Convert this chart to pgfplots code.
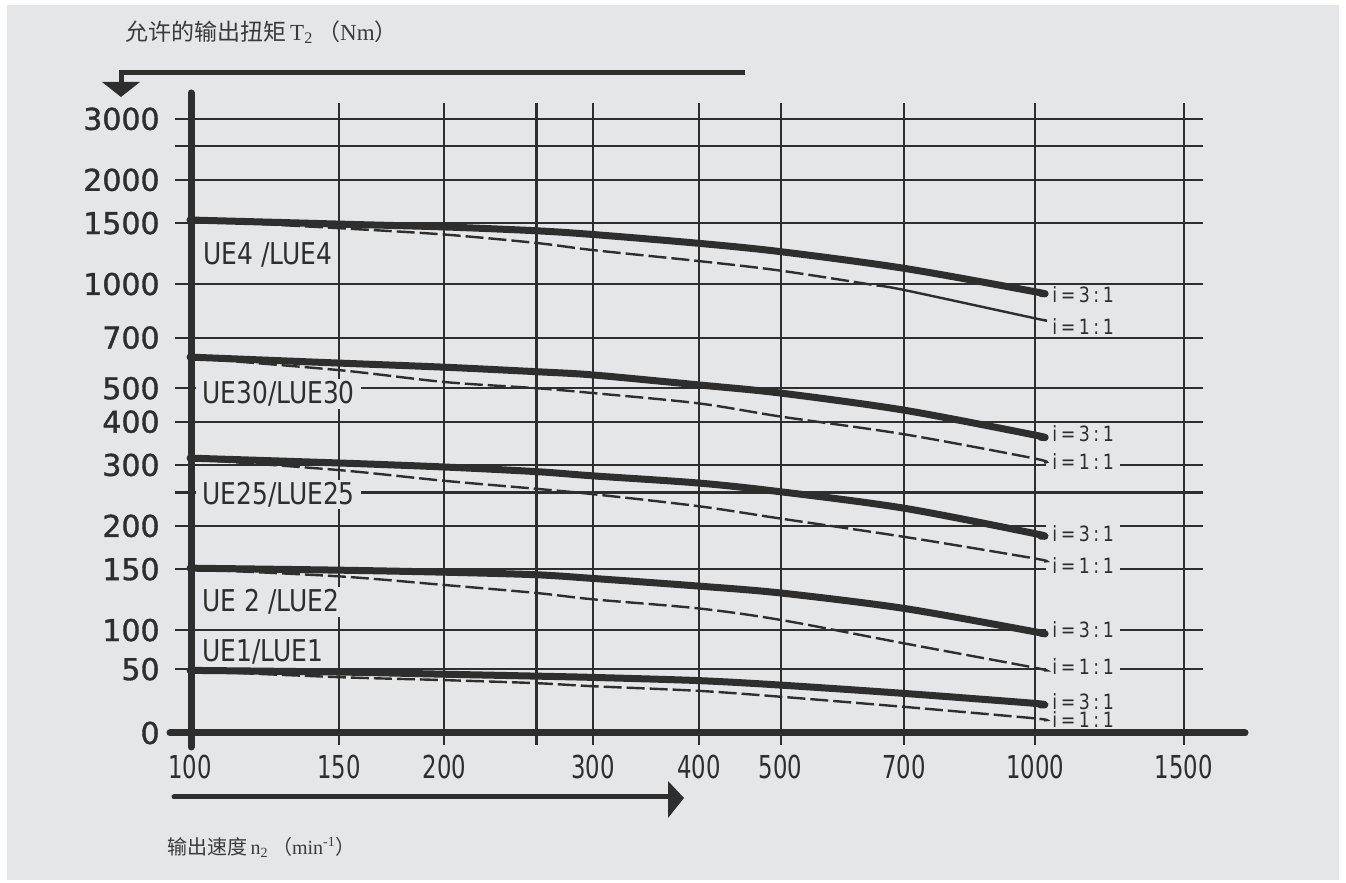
\documentclass[border=0pt]{standalone}
\usepackage{pgfplots}
\pgfplotsset{compat=1.18}
\usepackage{fontspec}
\setmainfont{DejaVu Sans}
\newfontfamily\ynumfont[FakeBold=1.2]{DejaVu Sans}
\newfontfamily\xnumfont[FakeStretch=0.72]{DejaVu Sans}
\newfontfamily\labfont[FakeStretch=0.83]{DejaVu Sans}
\newfontfamily\cjk{Noto Sans CJK SC}
\newfontfamily\tnr{Liberation Serif}
\definecolor{ink}{HTML}{2E2E2E}
\definecolor{bg}{HTML}{E5E6E8}
\definecolor{txt}{HTML}{3A3A3A}

\begin{document}
\begin{tikzpicture}[
  lab/.style={font=\labfont\fontsize{15}{16}\selectfont, text=ink, fill=bg, inner xsep=3pt, inner ysep=1pt, anchor=west},
  ilab/.style={font=\labfont\fontsize{10.5}{11}\selectfont, text=ink, fill=bg, inner xsep=3pt, inner ysep=0.5pt, anchor=west},
  thickc/.style={ink, line width=3.5pt, line cap=round, line join=round, smooth, tension=0.5, mark=none},
  thinc/.style={ink, line width=1.2pt, dash pattern=on 9pt off 2.5pt, smooth, tension=0.5, mark=none},
  thins/.style={ink, line width=1.2pt, smooth, tension=0.5, mark=none},
]
\begin{scope}[x=0.5pt,y=-0.5pt,shift={(0pt,441.5pt)}]
  \fill[white] (0,0) rectangle (1346,883);
  \fill[bg] (7,5) rectangle (1339,880);
\end{scope}
\begin{axis}[
  at={(87.5pt,75pt)}, anchor=south west,
  scale only axis, width=514pt, height=315pt,
  xmode=log, xmin=95.996, xmax=1580.5,
  ymin=0, ymax=3335,
  y coord trafo/.code={\pgfmathparse{(#1>=100) ? (ln(max(#1,1))*0.4342945) : ((#1>=50) ? (2-(100-#1)*0.002254) : (1.8873-(50-#1)*0.0036994))}},
  clip=false,
  axis line style={draw=none},
  major tick length=0pt,
  tick style={draw=none},
  xtick={100,150,200,257,300,400,500,700,1000,1500},
  xticklabels={100,150,200,,300,400,500,700,1000,1500},
  ytick={0,50,100,150,200,250,300,400,500,700,1000,1500,2000,2500,3000},
  yticklabels={0,50,100,150,200,,300,400,500,700,1000,1500,2000,,3000},
  xticklabel style={font=\xnumfont\fontsize{15.8}{16}\selectfont, inner sep=0pt, anchor=north, yshift=-11pt, text=ink},
  yticklabel style={font=\ynumfont\fontsize{15}{16}\selectfont, inner sep=0pt, anchor=east, xshift=-7.5pt, text=ink},
  grid=major,
  grid style={line width=1.1pt, ink},
]
% series labels
\node[lab] at (rel axis cs:0.0214,0.7587) {UE4 /LUE4};
\node[lab] at (rel axis cs:0.0204,0.5381) {UE30/LUE30};
\node[lab] at (rel axis cs:0.0204,0.3778) {UE25/LUE25};
\node[lab] at (rel axis cs:0.0204,0.2079) {UE 2 /LUE2};
\node[lab] at (rel axis cs:0.0204,0.1286) {UE1/LUE1};
% ratio labels
\node[ilab] at (rel axis cs:0.8473,0.6952) {i\,=\,3\,:\,1};
\node[ilab] at (rel axis cs:0.8473,0.6444) {i\,=\,1\,:\,1};
\node[ilab] at (rel axis cs:0.8473,0.4746) {i\,=\,3\,:\,1};
\node[ilab] at (rel axis cs:0.8473,0.4302) {i\,=\,1\,:\,1};
\node[ilab] at (rel axis cs:0.8473,0.3159) {i\,=\,3\,:\,1};
\node[ilab] at (rel axis cs:0.8473,0.2651) {i\,=\,1\,:\,1};
\node[ilab] at (rel axis cs:0.8473,0.1635) {i\,=\,3\,:\,1};
\node[ilab] at (rel axis cs:0.8473,0.1048) {i\,=\,1\,:\,1};
\node[ilab] at (rel axis cs:0.8473,0.0492) {i\,=\,3\,:\,1};
\node[ilab] at (rel axis cs:0.8473,0.0206) {i\,=\,1\,:\,1};
% tick extensions below the x axis
\pgfplotsinvokeforeach{150,200,257,300,400,500,700,1000,1500}{
  \draw[line width=1.1pt, ink] (axis cs:#1,0) -- ++(0pt,-6pt);
}
% heavy axis lines
\draw[line width=3.5pt, ink, line cap=round] (rel axis cs:0.01556,1.0159) -- (rel axis cs:0.01556,-0.0222);
\draw[line width=3.5pt, ink, line cap=round] (rel axis cs:-0.00486,0) -- (rel axis cs:1.0409,0);

% UE4 / LUE4
\addplot[thinc] coordinates {(100,1528) (150,1450) (200,1390) (257,1314) (300,1253) (400,1165) (500,1093) (650,990)};
\addplot[thins] coordinates {(650,990) (700,961) (1000,796) (1025,787)};
\addplot[thickc] coordinates {(100,1531) (150,1490) (200,1462) (257,1425) (300,1390) (400,1311) (500,1240) (700,1110) (1000,950) (1015,940)};
% UE30 / LUE30
\addplot[thinc] coordinates {(100,612) (150,564) (200,521) (257,500) (300,484) (400,452) (500,414) (700,368) (1000,313) (1025,305)};
\addplot[thickc] coordinates {(100,615) (150,591) (200,575) (257,558) (300,546) (400,511) (500,484) (700,432) (1000,366) (1015,361)};
% UE25 / LUE25
\addplot[thinc] coordinates {(100,312) (150,290) (200,270) (257,256) (300,247) (400,228) (500,210) (700,186) (1000,161) (1025,158)};
\addplot[thickc] coordinates {(100,314) (150,304) (200,296) (257,287) (300,279) (400,266) (500,251) (700,225) (1000,190) (1015,187)};
% UE2 / LUE2
\addplot[thinc] coordinates {(100,150) (150,143) (200,135) (257,128) (300,122.7) (400,115.5) (500,107) (700,83) (1000,51.7) (1025,49)};
\addplot[thickc] coordinates {(100,151) (150,149) (200,147) (257,144.5) (300,141) (400,134) (500,128) (700,115.5) (1000,97.8) (1015,96)};
% UE1 / LUE1
\addplot[thinc] coordinates {(100,48.5) (150,43.7) (200,41.4) (257,39) (300,36.6) (400,33) (500,28.4) (700,20.5) (1000,11.5) (1025,10)};
\addplot[thickc] coordinates {(100,49) (150,47.7) (200,46) (257,44.5) (300,43.5) (400,41) (500,37.5) (700,31) (1000,23.2) (1015,22)};
\end{axis}
\begin{scope}[x=0.5pt,y=-0.5pt,shift={(0pt,441.5pt)}]
  \draw[ink, line width=2.5pt] (745,73) -- (121,73) -- (121,85);
  \fill[ink] (102,82) -- (140,82) -- (121,97) -- cycle;
  \draw[ink, line width=2.5pt, line cap=round] (174,797) -- (670,797);
  \fill[ink] (668,781) -- (684,798) -- (668,818) -- cycle;
  \node[anchor=west, inner sep=0pt, text=txt] at (125,32)
    {\fontsize{11.5}{12}\selectfont\cjk 允许的输出扭矩\,\tnr T\textsubscript{2}\,\cjk（\tnr Nm\cjk）};
  \node[anchor=west, inner sep=0pt, text=txt] at (167,847)
    {\fontsize{10}{11}\selectfont\cjk 输出速度\,\tnr n\textsubscript{2}\,\cjk（\tnr min\textsuperscript{-1}\cjk）};
\end{scope}
\end{tikzpicture}
\end{document}
